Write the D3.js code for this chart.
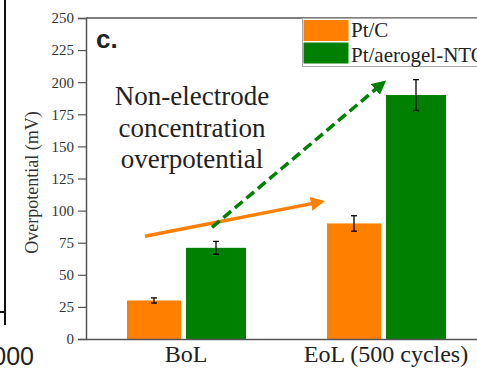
<!DOCTYPE html>
<html>
<head>
<meta charset="utf-8">
<script src="https://cdn.jsdelivr.net/npm/d3@7"></script>
<style>
  html, body { margin: 0; padding: 0; background: #fff; }
  svg { display: block; }
</style>
</head>
<body>
<svg id="chart" width="477" height="369"></svg>
<script>
// Overpotential at beginning and end of life
const categories = ["BoL", "EoL (500 cycles)"];
const series = ["Pt/C", "Pt/aerogel-NTO"];
const colors = ["#ff8000", "#008000"];
const ptcValues = [30, 90];
const ptcErrors = [2, 6];
const ntoValues = [71, 190];
const ntoErrors = [5, 12];
const yTicks = [0, 25, 50, 75, 100, 125, 150, 175, 200, 225, 250];
const annotationLines = ["Non-electrode", "concentration", "overpotential"];
// trend arrows: [category index, offset in category steps, value]
const orangeArrow = [[0, -0.205, 80], [1, -0.32, 107]];
const greenArrow = [[0, 0.13, 87], [1, -0.01, 200]];

const svg = d3.select("#chart");
const W = 477, H = 369;
const plotLeft = 86, plotTop = 18, plotBottom = 339;

const x = d3.scaleBand().domain(categories).range([plotLeft, plotLeft + 400]).padding(0);
const y = d3.scaleLinear().domain([0, 250]).range([plotBottom, plotTop]);
const sub = d3.scaleBand().domain(series).range([-60, 60]).padding(0);

const serif = "'Liberation Serif', 'Times New Roman', serif";
const axisColor = "#555";

// neighbouring panel remnant at the far left
svg.append("line").attr("x1", 5).attr("x2", 5).attr("y1", 0).attr("y2", 325)
  .attr("stroke", "#111").attr("stroke-width", 2);
svg.append("line").attr("x1", 0).attr("x2", 5).attr("y1", 312).attr("y2", 312)
  .attr("stroke", "#111").attr("stroke-width", 2);
svg.append("text").attr("x", 34).attr("y", 365).attr("text-anchor", "end")
  .attr("font-family", "'Liberation Sans', Arial, sans-serif").attr("font-size", 25)
  .attr("fill", "#222").text("2000");

// frame top line
svg.append("line").attr("x1", plotLeft).attr("x2", W).attr("y1", plotTop).attr("y2", plotTop)
  .attr("stroke", axisColor).attr("stroke-width", 1.5);

// bars
const rows = categories.map((c, i) => ({
  cat: c,
  vals: [
    { s: series[0], v: ptcValues[i], e: ptcErrors[i], k: 0 },
    { s: series[1], v: ntoValues[i], e: ntoErrors[i], k: 1 }
  ]
}));

const groups = svg.append("g").selectAll("g").data(rows).join("g")
  .attr("transform", d => `translate(${x(d.cat) + x.bandwidth() / 2},0)`);

groups.selectAll("rect").data(d => d.vals).join("rect")
  .attr("x", d => sub(d.s) + (d.k === 0 ? 1 : 0))
  .attr("width", d => sub.bandwidth() - (d.k === 0 ? 6 : 0))
  .attr("y", d => y(d.v))
  .attr("height", d => y(0) - y(d.v))
  .attr("fill", d => colors[d.k]);

// error bars
const eb = groups.selectAll("g.err").data(d => d.vals).join("g").attr("class", "err")
  .attr("transform", d => `translate(${sub(d.s) + (d.k === 0 ? 1 + (sub.bandwidth() - 6) / 2 : sub.bandwidth() / 2)},0)`);
eb.append("line").attr("x1", 0).attr("x2", 0)
  .attr("y1", d => y(d.v + d.e)).attr("y2", d => y(d.v - d.e))
  .attr("stroke", "#000").attr("stroke-width", 1.3);
eb.append("line").attr("x1", -3).attr("x2", 3)
  .attr("y1", d => y(d.v + d.e)).attr("y2", d => y(d.v + d.e))
  .attr("stroke", "#000").attr("stroke-width", 1.3);
eb.append("line").attr("x1", -3).attr("x2", 3)
  .attr("y1", d => y(d.v - d.e)).attr("y2", d => y(d.v - d.e))
  .attr("stroke", "#000").attr("stroke-width", 1.3);

// y axis
const yAxis = svg.append("g").attr("transform", `translate(${plotLeft},0)`)
  .call(d3.axisLeft(y).tickValues(yTicks).tickSize(8).tickPadding(4));
yAxis.select(".domain").attr("stroke", axisColor).attr("stroke-width", 1.5);
yAxis.selectAll(".tick line").attr("stroke", axisColor).attr("stroke-width", 1.2);
yAxis.selectAll(".tick text").attr("font-family", serif).attr("font-size", 15).attr("fill", "#333");

// x axis
const xAxis = svg.append("g").attr("transform", `translate(0,${plotBottom})`)
  .call(d3.axisBottom(x).tickSize(0).tickPadding(10));
xAxis.select(".domain").attr("stroke", axisColor).attr("stroke-width", 1.5);
xAxis.selectAll(".tick text").attr("font-family", serif).attr("font-size", 24)
  .attr("fill", "#222").attr("dy", "0.71em").attr("y", 6);

// y axis title
svg.append("text")
  .attr("transform", `translate(38,${(plotTop + plotBottom) / 2 + 4}) rotate(-90)`)
  .attr("text-anchor", "middle")
  .attr("font-family", serif).attr("font-size", 18).attr("fill", "#333")
  .text("Overpotential (mV)");

// panel letter
svg.append("text").attr("x", 96).attr("y", 48)
  .attr("font-family", "'Liberation Sans', Arial, sans-serif").attr("font-weight", "bold")
  .attr("font-size", 26).attr("fill", "#222").text("c.");

// annotation
svg.append("text").attr("text-anchor", "middle")
  .attr("font-family", serif).attr("font-size", 27).attr("fill", "#222")
  .selectAll("tspan").data(annotationLines).join("tspan")
  .attr("x", 192).attr("y", (d, i) => 105 + i * 31.5).text(d => d);

// arrows
const defs = svg.append("defs");
function marker(id, color) {
  defs.append("marker").attr("id", id).attr("viewBox", "0 0 10 10")
    .attr("refX", 8).attr("refY", 5).attr("markerWidth", 4).attr("markerHeight", 4)
    .attr("orient", "auto").attr("markerUnits", "strokeWidth")
    .append("path").attr("d", "M0,0 L10,5 L0,10 Z").attr("fill", color);
}
marker("headO", colors[0]);
marker("headG", colors[1]);
const px = p => x(categories[p[0]]) + x.bandwidth() / 2 + p[1] * x.step();
const line = d3.line().x(px).y(p => y(p[2]));

svg.append("path").attr("d", line(orangeArrow)).attr("fill", "none")
  .attr("stroke", colors[0]).attr("stroke-width", 3.5).attr("marker-end", "url(#headO)");
svg.append("path").attr("d", line(greenArrow)).attr("fill", "none")
  .attr("stroke", colors[1]).attr("stroke-width", 3.5).attr("stroke-dasharray", "10,5")
  .attr("marker-end", "url(#headG)");

// legend
const lg = svg.append("g");
lg.append("rect").attr("x", 302.5).attr("y", 18.5).attr("width", 200).attr("height", 48)
  .attr("fill", "#fff").attr("stroke", "#aaa").attr("stroke-width", 1);
series.forEach((s, i) => {
  lg.append("rect").attr("x", 303.5).attr("y", 20 + i * 22.5).attr("width", 45).attr("height", 21)
    .attr("fill", colors[i]);
  lg.append("text").attr("x", 351).attr("y", 37 + i * 24.5)
    .attr("font-family", serif).attr("font-size", 21).attr("fill", "#222").text(s);
});
</script>
</body>
</html>
